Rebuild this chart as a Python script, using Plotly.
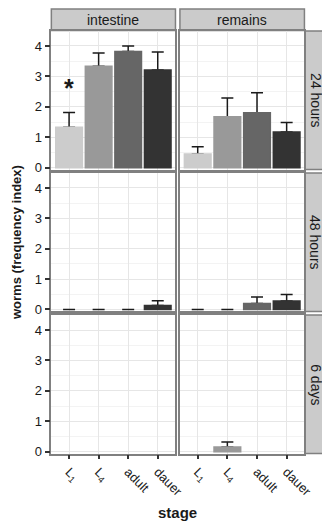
import plotly.graph_objects as go

# ---- data ----
stages = ["L<sub>1</sub>", "L<sub>4</sub>", "adult", "dauer"]
tissues = ["intestine", "remains"]
times = ["24 hours", "48 hours", "6 days"]

intestine_24h = [1.33, 3.33, 3.82, 3.21]
intestine_24h_se = [0.48, 0.44, 0.18, 0.59]
remains_24h = [0.45, 1.67, 1.80, 1.17]
remains_24h_se = [0.24, 0.62, 0.66, 0.31]

intestine_48h = [0, 0, 0, 0.13]
intestine_48h_se = [0, 0, 0, 0.16]
remains_48h = [0, 0, 0.20, 0.28]
remains_48h_se = [0, 0, 0.21, 0.21]

intestine_6d = [0, 0, 0, 0]
intestine_6d_se = [None, None, None, None]
remains_6d = [0, 0.15, 0, 0]
remains_6d_se = [None, 0.17, None, None]

star_label = "*"
star_value = 2.61

means = [[intestine_24h, remains_24h],
         [intestine_48h, remains_48h],
         [intestine_6d, remains_6d]]
ses = [[intestine_24h_se, remains_24h_se],
       [intestine_48h_se, remains_48h_se],
       [intestine_6d_se, remains_6d_se]]

fills = ["#cccccc", "#999999", "#666666", "#333333"]

# ---- layout geometry (pixels) ----
W, H = 330, 521
cols_px = [(44.7, 172.7), (177.3, 305.7)]
rows_px = [(23.3, 163.5), (167.0, 307.0), (310.7, 450.8)]
FONT = "Liberation Sans, Arial, sans-serif"
BORDER = "#808080"
STRIP = "#cbcbcb"

def fx(p):
    return p / W

def fy(p):
    return 1 - p / H

fig = go.Figure()
xpos = list(range(len(stages)))

layout = dict(
    width=W, height=H, margin=dict(l=0, r=0, t=0, b=0),
    paper_bgcolor="white", plot_bgcolor="white",
    showlegend=False, barmode="overlay",
    font=dict(family=FONT, size=13, color="#1a1a1a"),
)

shapes = []
annotations = []

for r in range(3):
    for c in range(2):
        i = r * 2 + c + 1
        xa = "x" if i == 1 else f"x{i}"
        ya = "y" if i == 1 else f"y{i}"
        m = means[r][c]
        s = ses[r][c]
        keep = [k for k in xpos if s[k] is not None]
        lw = [1.5 if v > 0 else 0 for v in m]
        # error bars (drawn first so bars cover their lower part)
        if keep:
            fig.add_trace(go.Bar(
                x=[xpos[k] for k in keep], y=[m[k] for k in keep], width=0.9,
                xaxis=xa, yaxis=ya,
                marker=dict(color="rgba(0,0,0,0)", line=dict(width=0)),
                error_y=dict(type="data", array=[s[k] for k in keep],
                             arrayminus=[0] * len(keep), symmetric=False,
                             color="#1a1a1a", thickness=1.5, width=6),
                hoverinfo="skip"))
        fig.add_trace(go.Bar(
            x=xpos, y=m, width=0.9, xaxis=xa, yaxis=ya,
            marker=dict(color=fills, line=dict(color=fills, width=lw)),
            hoverinfo="skip"))

        x0, x1 = cols_px[c]
        yt, yb = rows_px[r]
        bottom = (r == 2)
        left = (c == 0)
        layout["xaxis" if i == 1 else f"xaxis{i}"] = dict(
            domain=[fx(x0), fx(x1)], anchor=ya, range=[-0.6, 3.6],
            tickmode="array", tickvals=xpos, ticktext=stages,
            showticklabels=bottom, ticks="outside" if bottom else "",
            ticklen=4, tickwidth=1.5, tickcolor="#333333",
            tickangle=45, tickfont=dict(size=13, color="#1a1a1a"),
            showgrid=True, gridcolor="#e6e6e6", gridwidth=1,
            showline=True, linecolor=BORDER, linewidth=1.5, mirror=True,
            zeroline=False, fixedrange=True)
        layout["yaxis" if i == 1 else f"yaxis{i}"] = dict(
            domain=[fy(yb), fy(yt)], anchor=xa, range=[-0.065, 4.49],
            tickmode="linear", tick0=0, dtick=1,
            showticklabels=left, ticks="outside" if left else "",
            ticklen=5, tickwidth=1.5, tickcolor="#333333",
            tickfont=dict(size=13, color="#1a1a1a"),
            showgrid=True, gridcolor="#e6e6e6", gridwidth=1,
            minor=dict(dtick=0.5, tick0=0, showgrid=True, gridcolor="#f3f3f3", gridwidth=1),
            showline=True, linecolor=BORDER, linewidth=1.5, mirror=True,
            zeroline=False, fixedrange=True)

# top strips
for c in range(2):
    x0, x1 = cols_px[c]
    shapes.append(dict(type="rect", xref="paper", yref="paper",
                       x0=fx(x0), x1=fx(x1), y0=fy(22.7), y1=fy(1.0),
                       fillcolor=STRIP, line=dict(color=BORDER, width=1.5), layer="below"))
    annotations.append(dict(xref="paper", yref="paper", x=fx((x0 + x1) / 2), y=fy(11.8),
                            text=tissues[c], showarrow=False,
                            font=dict(size=14, color="#1a1a1a", family=FONT),
                            xanchor="center", yanchor="middle"))
# right strips
for r in range(3):
    yt, yb = rows_px[r]
    shapes.append(dict(type="rect", xref="paper", yref="paper",
                       x0=fx(306.3), x1=fx(327.3), y0=fy(yb), y1=fy(yt),
                       fillcolor=STRIP, line=dict(color=BORDER, width=1.5), layer="below"))
    annotations.append(dict(xref="paper", yref="paper", x=fx(316.8), y=fy((yt + yb) / 2),
                            text=times[r], showarrow=False, textangle=90,
                            font=dict(size=14, color="#1a1a1a", family=FONT),
                            xanchor="center", yanchor="middle"))

# significance star
annotations.append(dict(xref="x", yref="y", x=0, y=star_value, text=f"<b>{star_label}</b>",
                        showarrow=False, font=dict(size=25, color="#1a1a1a", family=FONT),
                        xanchor="center", yanchor="middle"))

# axis titles
annotations.append(dict(xref="paper", yref="paper", x=fx(175), y=fy(510),
                        text="<b>stage</b>", showarrow=False,
                        font=dict(size=15, color="#1a1a1a", family=FONT),
                        xanchor="center", yanchor="middle"))
annotations.append(dict(xref="paper", yref="paper", x=fx(9), y=fy(237),
                        text="<b>worms (frequency index)</b>", showarrow=False, textangle=-90,
                        font=dict(size=13, color="#1a1a1a", family=FONT),
                        xanchor="center", yanchor="middle"))

layout["shapes"] = shapes
layout["annotations"] = annotations
fig.update_layout(**layout)

fig.write_html("out.html")
